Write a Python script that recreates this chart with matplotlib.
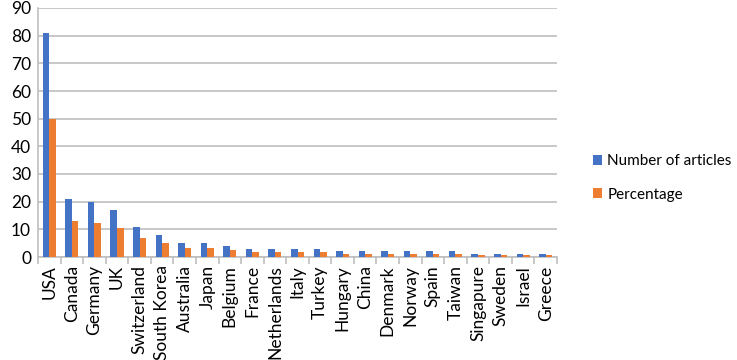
import matplotlib.pyplot as plt
import numpy as np

countries = [
    "USA", "Canada", "Germany", "UK", "Switzerland", "South Korea", "Australia",
    "Japan", "Belgium", "France", "Netherlands", "Italy", "Turkey", "Hungary",
    "China", "Denmark", "Norway", "Spain", "Taiwan", "Singapure", "Sweden",
    "Israel", "Greece",
]
articles = [81, 21, 20, 17, 11, 8, 5, 5, 4, 3, 3, 3, 3, 2, 2, 2, 2, 2, 2, 1, 1, 1, 1]
percentage = [50, 12.96, 12.35, 10.49, 6.79, 4.94, 3.09, 3.09, 2.47, 1.85, 1.85,
              1.85, 1.85, 1.23, 1.23, 1.23, 1.23, 1.23, 1.23, 0.62, 0.62, 0.62, 0.62]

plt.rcParams["font.family"] = ["Lato", "DejaVu Sans"]

fig = plt.figure(figsize=(7.37, 3.6), dpi=100)
ax = fig.add_axes([38 / 737, 1 - 257 / 360, (557 - 38) / 737, (257 - 8) / 360])

x = np.arange(len(countries))
w = 0.29
ax.bar(x - w / 2, articles, w, color="#4472C4", label="Number of articles", zorder=3)
ax.bar(x + w / 2, percentage, w, color="#ED7D31", label="Percentage", zorder=3)

ax.set_xlim(-0.5, len(countries) - 0.5)
ax.set_ylim(0, 90)
ax.set_yticks(range(0, 91, 10))
ax.grid(True, axis="y", color="#BFBFBF", linewidth=1.2, zorder=0)
ax.tick_params(axis="y", length=0, labelsize=12.5, pad=5)

ax.set_xticks(x)
ax.set_xticklabels(countries, rotation=90, fontsize=12.5)
ax.tick_params(axis="x", length=0, pad=6)
ax.set_xticks(np.arange(-0.5, len(countries)), minor=True)
ax.tick_params(axis="x", which="minor", length=5, color="#BFBFBF", width=1.2)

for side in ["top", "right"]:
    ax.spines[side].set_visible(False)
ax.spines["left"].set_color("#BFBFBF")
ax.spines["left"].set_linewidth(1.2)
ax.spines["bottom"].set_color("#BFBFBF")
ax.spines["bottom"].set_linewidth(1.2)

fig.legend(
    loc="center left",
    bbox_to_anchor=(579 / 737, 1 - 178 / 360),
    frameon=False,
    fontsize=11,
    handlelength=0.6,
    handleheight=0.6,
    handletextpad=0.35,
    labelspacing=1.25,
)

fig.savefig("out.png", dpi=100)
